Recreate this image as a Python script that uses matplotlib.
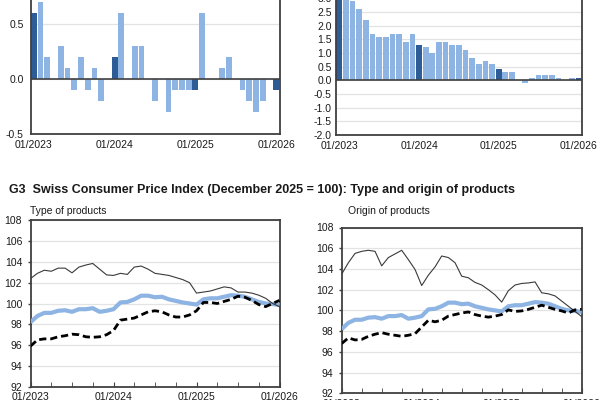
import matplotlib
matplotlib.use("Agg")
import matplotlib.pyplot as plt
from matplotlib.ticker import FixedLocator, MultipleLocator, FormatStrFormatter

plt.rcParams['font.family'] = ['Liberation Sans', 'DejaVu Sans']

# ---- data ----
tick_labels = ["01/2023", "01/2024", "01/2025", "01/2026"]
mom_change = [0.6, 0.7, 0.2, 0.0, 0.3, 0.1, -0.1, 0.2, -0.1, 0.1, -0.2, 0.0,
              0.2, 0.6, 0.0, 0.3, 0.3, 0.0, -0.2, 0.0, -0.3, -0.1, -0.1, -0.1,
              -0.1, 0.6, 0.0, 0.0, 0.1, 0.2, 0.0, -0.1, -0.2, -0.3, -0.2, 0.0, -0.1]
yoy_change = [3.3, 3.4, 2.9, 2.6, 2.2, 1.7, 1.6, 1.6, 1.7, 1.7, 1.4, 1.7,
              1.3, 1.2, 1.0, 1.4, 1.4, 1.3, 1.3, 1.1, 0.8, 0.6, 0.7, 0.6,
              0.4, 0.3, 0.3, 0.0, -0.1, 0.1, 0.2, 0.2, 0.2, 0.1, 0.0, 0.1, 0.1]
total = [98.2, 98.8, 99.1, 99.1, 99.3, 99.35, 99.2, 99.45, 99.45, 99.55, 99.2, 99.3,
         99.45, 100.1, 100.15, 100.4, 100.75, 100.75, 100.6, 100.65, 100.4, 100.25, 100.1, 100.0,
         99.9, 100.4, 100.5, 100.5, 100.65, 100.8, 100.75, 100.65, 100.4, 100.15, 100.0, 99.95, 99.85]
goods = [102.4, 102.9, 103.2, 103.1, 103.4, 103.4, 102.95, 103.5, 103.7, 103.85, 103.3, 102.75,
         102.7, 102.9, 102.8, 103.5, 103.6, 103.3, 102.9, 102.8, 102.7, 102.5, 102.3, 102.0,
         101.0, 101.1, 101.2, 101.4, 101.6, 101.5, 101.1, 101.1, 101.0, 100.8, 100.5, 100.0, 99.7]
services = [95.9, 96.5, 96.6, 96.6, 96.8, 96.9, 97.05, 97.0, 96.8, 96.75, 96.8, 97.0,
            97.4, 98.4, 98.5, 98.6, 98.9, 99.2, 99.3, 99.2, 98.9, 98.7, 98.7, 98.9,
            99.3, 100.1, 100.1, 100.0, 100.2, 100.4, 100.7, 100.6, 100.3, 99.9, 99.7, 100.0, 100.3]
imported = [103.5, 104.6, 105.5, 105.7, 105.8, 105.7, 104.3, 105.1, 105.45, 105.8, 104.9, 103.95,
            102.4, 103.4, 104.2, 105.25, 105.1, 104.6, 103.3, 103.15, 102.7, 102.45, 102.0, 101.5,
            100.8, 101.9, 102.45, 102.6, 102.65, 102.75, 101.7, 101.6, 101.4, 100.9, 100.4, 99.9, 99.4]
domestic = [96.8, 97.35, 97.15, 97.2, 97.5, 97.7, 97.85, 97.7, 97.6, 97.5, 97.6, 97.75,
            98.4, 99.05, 98.9, 99.05, 99.45, 99.6, 99.75, 99.85, 99.6, 99.45, 99.35, 99.45,
            99.6, 100.05, 99.9, 99.95, 100.1, 100.3, 100.5, 100.3, 100.1, 99.95, 99.75, 100.05, 100.1]

n = len(mom_change)
x = list(range(n))
LIGHT = "#8DB4E2"
DARK = "#2E5C96"
SPINE = "#404040"
GRID = "#E3E3E3"
TXT = "#1A1A1A"
FS = 7.5

W, H = 600, 400
fig = plt.figure(figsize=(6, 4), dpi=100)


def px_axes(x0, x1, ytop, ybot):
    return fig.add_axes([x0 / W, (H - ybot) / H, (x1 - x0) / W, (ybot - ytop) / H])


def style(ax, ypad, ylen=0):
    for s in ax.spines.values():
        s.set_color(SPINE)
        s.set_linewidth(1.3)
    ax.grid(axis='y', color=GRID, linewidth=0.9)
    ax.set_axisbelow(True)
    ax.tick_params(axis='y', length=ylen, pad=ypad, labelsize=FS, labelcolor=TXT, color=SPINE)
    ax.tick_params(axis='x', labelsize=FS, labelcolor=TXT)


cols = [DARK if i % 12 == 0 else LIGHT for i in x]

# ---- bar chart left: month-on-month ----
ax1 = px_axes(30.5, 279.5, 134 - 110 * 1.5, 134)
ax1.bar(x, mom_change, width=0.86, color=cols, zorder=2)
ax1.axhline(0, color=SPINE, lw=1.2, zorder=3)
ax1.set_xlim(-0.5, n - 0.5)
ax1.set_ylim(-0.5, 1.0)
ax1.yaxis.set_major_locator(FixedLocator([-0.5, 0.0, 0.5]))
ax1.yaxis.set_major_formatter(FormatStrFormatter('%.1f'))
style(ax1, 5)
ax1.set_xticks([0, 12, 24, 36])
ax1.set_xticklabels(tick_labels)
ax1.tick_params(axis='x', length=0, pad=4)

# ---- bar chart right: year-on-year ----
ax2 = px_axes(336, 581.7, 80.3 - 27.35 * 4.0, 135)
ax2.bar(x, yoy_change, width=0.86, color=cols, zorder=2)
ax2.axhline(0, color=SPINE, lw=1.2, zorder=3)
ax2.set_xlim(-0.5, n - 0.5)
ax2.set_ylim(-2.0, 4.0)
ax2.yaxis.set_major_locator(FixedLocator([-2.0, -1.5, -1.0, -0.5, 0.0, 0.5, 1.0, 1.5, 2.0, 2.5, 3.0]))
ax2.yaxis.set_major_formatter(FormatStrFormatter('%.1f'))
ax2.yaxis.set_minor_locator(FixedLocator([3.5]))
ax2.grid(axis='y', which='minor', color=GRID, linewidth=0.9)
style(ax2, 3)
ax2.set_xticks([0, 12, 24, 36])
ax2.set_xticklabels(tick_labels)
ax2.tick_params(axis='x', length=0, pad=4)
ax2.tick_params(axis='y', which='minor', length=0)

# ---- title ----
fig.text(9 / W, 1 - 190 / H, "G3  Swiss Consumer Price Index (December 2025 = 100): Type and origin of products",
         fontsize=9.0, fontweight='bold', color=TXT, va='center', ha='left')


def line_chart(ax, thin, dashed, subtitle, sx):
    ax.plot(x, total, color=LIGHT, lw=3.0, zorder=3, solid_capstyle='butt')
    ax.plot(x, thin, color="#3A3A3A", lw=0.8, zorder=4)
    ax.plot(x, dashed, color="black", lw=2.0, dashes=(2.6, 1.4), zorder=5)
    ax.set_xlim(0, n - 1)
    ax.set_ylim(92, 108)
    ax.yaxis.set_major_locator(MultipleLocator(2))
    style(ax, 3.5, ylen=2.5)
    ax.tick_params(axis='y', direction='out', width=1.0)
    ax.set_xticks([0, 12, 24, 36])
    ax.set_xticklabels(tick_labels)
    ax.xaxis.set_minor_locator(FixedLocator(list(range(0, n, 3))))
    ax.tick_params(axis='x', which='both', direction='in', length=3.5, color=SPINE, pad=4)
    fig.text(sx / W, 1 - 210.7 / H, subtitle, fontsize=FS, color=TXT, va='center', ha='left')


ax3 = px_axes(30.5, 279.5, 220.3, 386.7)
line_chart(ax3, goods, services, "Type of products", 30.5)

ax4 = px_axes(341.7, 581.7, 227.5, 393.3)
line_chart(ax4, imported, domestic, "Origin of products", 347.5)

fig.savefig("out.png", dpi=100)
